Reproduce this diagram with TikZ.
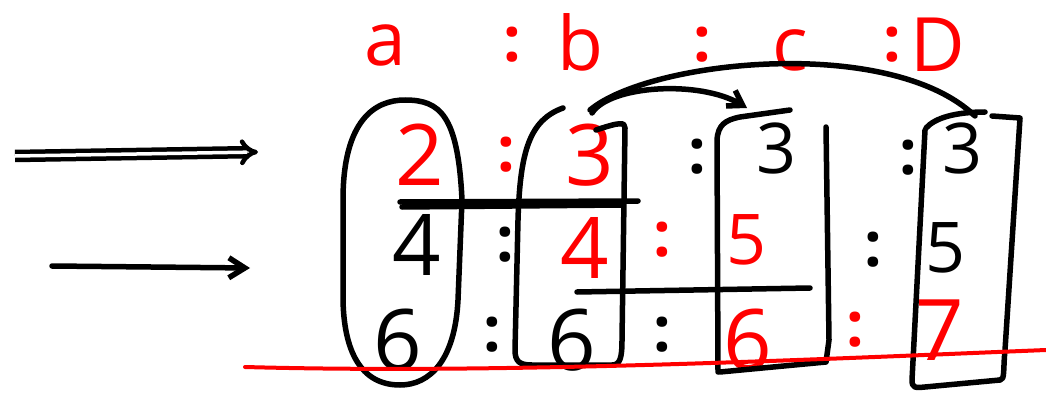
\documentclass[tikz,border=0pt]{standalone}
\usepackage{fontspec}
\setmainfont{Open Sans}
\usetikzlibrary{arrows.meta}
\begin{document}
\begin{tikzpicture}[x=1pt,y=-1pt,
  stroke/.style={line width=5.5pt, line cap=round, line join=round},
  numbig/.style={font=\fontsize{85}{85}\selectfont, inner sep=0pt},
  numsmall/.style={font=\fontsize{70}{70}\selectfont, inner sep=0pt},
  colon/.style={font=\bfseries\fontsize{62}{62}\selectfont, inner sep=0pt},
  hdr/.style={font=\fontsize{75}{75}\selectfont, inner sep=0pt, text=red},
  redc/.style={text=red}]
\useasboundingbox (0,0) rectangle (1046,393);

% headers
\node[hdr] (ha) at (385,45) {a};
\node[hdr,colon] (hc1) at (512,45) {:};
\node[hdr] (hb) at (580,42) {b};
\node[hdr,colon] (hc2) at (702,45) {:};
\node[hdr] (hcc) at (790,50) {c};
\node[hdr,colon] (hc3) at (892,45) {:};
\node[hdr] (hd) at (938,45) {D};

% row 1
\node[numbig,redc] (a1) at (420,155) {2};
\node[colon,redc] (r1c1) at (506,155) {:};
\node[numbig,redc] (b1) at (590,155) {3};
\node[colon] (r1c2) at (697,157) {:};
\node[numsmall] (c1) at (777,148) {3};
\node[colon] (r1c3) at (908,158) {:};
\node[numsmall] (d1) at (962,148) {3};

% row 2
\node[numbig] (a2) at (417,245) {4};
\node[colon] (r2c1) at (505,245) {:};
\node[numbig,redc] (b2) at (585,248) {4};
\node[colon,redc] (r2c2) at (662,240) {:};
\node[numsmall,redc] (c2) at (747,240) {5};
\node[colon] (r2c3) at (873,250) {:};
\node[numsmall] (d2) at (945,248) {5};

% row 3
\node[numbig] (a3) at (398,340) {6};
\node[colon] (r3c1) at (492,335) {:};
\node[numbig] (b3) at (572,340) {6};
\node[colon] (r3c2) at (662,335) {:};
\node[numbig,redc] (c3) at (748,340) {6};
\node[colon,redc] (r3c3) at (855,330) {:};
\node[numbig,redc] (d3) at (940,330) {7};

% left arrows
\coordinate (la1) at (15,156);
\coordinate (la2) at (258,152);
\coordinate (lb1) at (52,266);
\coordinate (lb2) at (250,268);
\draw[line width=4.5pt, double, double distance=3.5pt, -{Implies[length=16pt]}] (la1) -- (la2);
\draw[stroke, -{Straight Barb[length=16pt,width=20pt]}] (lb1) -- (lb2);

% column a pill
\draw[stroke] (343,200) .. controls (343,120) and (375,100) .. (405,100)
  .. controls (440,100) and (458,115) .. (462,200) -- (458,300)
  .. controls (455,360) and (430,385) .. (400,385)
  .. controls (360,385) and (344,350) .. (343,300) -- cycle;

% column b box
\draw[stroke] (563,108) .. controls (530,120) and (520,150) .. (518,220) -- (515,350)
  .. controls (515,362) and (520,365) .. (532,365) -- (612,365)
  .. controls (620,365) and (622,358) .. (622,340) -- (625,128)
  .. controls (625,122) and (620,122) .. (596,130);

% column c box
\draw[stroke] (718,372) -- (717,140) .. controls (718,125) and (725,120) .. (740,117) -- (790,110);
\draw[stroke] (826,127) -- (829,340) -- (826,362) -- (720,372);

% column D box
\draw[stroke] (1000,380) .. controls (1005,380) and (1003,370) .. (1005,350) -- (1020,118) -- (992,116);
\draw[stroke] (926,128) .. controls (935,118) and (955,112) .. (985,112);
\draw[stroke] (925,130) -- (912,380) .. controls (912,388) and (915,388) .. (925,387) -- (1000,380);

% horizontal lines
\draw[stroke] (400,202) -- (638,201);
\draw[stroke] (402,207) -- (622,205);
\draw[stroke] (577,292) -- (810,288);

% red baseline
\draw[line width=4pt, red, line cap=round] (245,367) .. controls (500,374) and (800,360) .. (1046,350);

% curved arrows
\draw[stroke, -{Straight Barb[length=14pt,width=18pt]}] ([shift={(2,-42)}]b1.center)
  .. controls (610,85) and (700,80) .. ([shift={(-30,-40)}]c1.center);
\draw[stroke] ([shift={(0,-45)}]b1.center)
  .. controls (650,60) and (890,35) .. ([shift={(13,-32)}]d1.center);
\end{tikzpicture}
\end{document}
